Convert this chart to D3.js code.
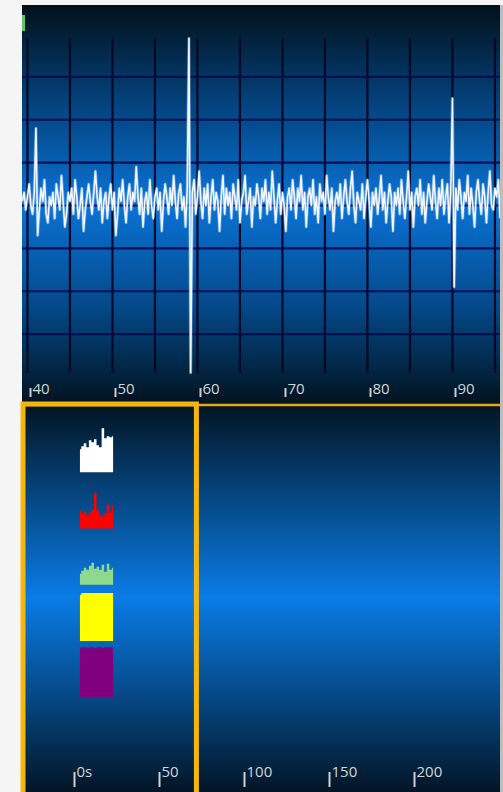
<!DOCTYPE html>
<html>
<head>
<meta charset="utf-8">
<script src="https://cdn.jsdelivr.net/npm/d3@7"></script>
<style>
  body { margin: 0; background: #f5f5f5; }
  svg { display: block; }
</style>
</head>
<body>
<svg id="chart" width="503" height="792"></svg>
<script>
// detail view: one trace, seconds on x
var sigStart = 39.1, sigStep = 0.2;
var signal = [
  0.1, 0.3, -0.1, 0.2, 0.5, 0.0, -0.2, 0.3, 1.8, -0.7,
  -0.1, 0.4, 0.1, 0.6, -0.2, -0.4, 0.2, 0.0, 0.3, -0.3,
  0.5, 0.2, -0.1, 0.7, 0.1, -0.5, -0.2, 0.3, 0.1, 0.4,
  -0.2, 0.6, 0.2, -0.3, 0.0, 0.4, -0.6, -0.1, 0.2, 0.5,
  0.1, -0.2, 0.3, 0.8, 0.2, -0.1, 0.4, -0.4, 0.1, 0.3,
  -0.3, 0.2, 0.5, -0.1, 0.3, -0.7, -0.2, 0.4, 0.1, 0.6,
  0.0, -0.4, 0.2, 0.5, -0.1, 0.3, 0.1, 0.9, 0.2, -0.2,
  0.4, -0.5, 0.1, 0.3, -0.2, 0.6, 0.0, -0.3, 0.2, 0.4,
  -0.1, 0.3, -0.6, 0.1, 0.5, 0.2, -0.2, 0.4, 0.0, 0.7,
  0.1, -0.3, 0.3, 0.5, -0.1, 0.2, -0.5, 0.4, 3.9, -3.9,
  0.3, 0.6, -0.2, 0.2, 0.8, 0.1, -0.3, 0.4, 0.0, 0.5,
  -0.4, 0.2, 0.6, -0.1, 0.3, 0.1, -0.6, 0.2, 0.7, -0.2,
  0.4, 0.0, 0.3, -0.3, 0.5, 0.2, -0.1, 0.6, -0.4, 0.1,
  0.3, 0.7, -0.2, 0.1, 0.4, -0.5, 0.2, 0.0, 0.5, 0.2,
  -0.3, 0.4, 0.1, 0.6, -0.2, 0.3, -0.1, 0.8, 0.2, -0.4,
  0.1, 0.5, -0.2, 0.3, 0.0, -0.6, 0.2, 0.4, -0.1, 0.6,
  0.2, -0.3, 0.4, 0.1, 0.7, -0.1, 0.3, -0.5, 0.2, 0.4,
  0.0, 0.6, -0.2, 0.2, -0.4, 0.5, 0.1, 0.3, -0.2, 0.7,
  0.2, -0.1, 0.4, -0.6, 0.1, 0.3, 0.0, 0.5, -0.3, 0.2,
  0.6, 0.1, -0.2, 0.4, 0.8, 0.0, -0.4, 0.3, 0.1, -0.1,
  0.5, -0.3, 0.2, 0.6, 0.1, -0.5, 0.3, 0.0, 0.4, -0.2,
  0.2, 0.7, -0.1, 0.3, -0.4, 0.1, 0.5, 0.2, -0.6, 0.3,
  0.0, 0.4, -0.2, 0.6, 0.1, -0.3, 0.2, 0.8, -0.1, 0.3,
  -0.5, 0.2, 0.4, 0.0, 0.6, -0.2, 0.3, -0.4, 0.1, 0.5,
  0.2, -0.1, 0.7, 0.1, -0.3, 0.4, 0.0, 0.6, -0.2, 0.2,
  0.5, -0.4, 0.3, 2.5, -1.9, 0.4, -0.1, 0.6, 0.2, -0.3,
  0.3, 0.1, 0.7, -0.2, 0.4, 0.0, -0.5, 0.3, 0.6, 0.1,
  -0.2, 0.5, 0.2, -0.4, 0.3, 0.8, 0.0, -0.1, 0.4, 0.2,
  0.6, -0.3
];
var detailTicks = [40, 50, 60, 70, 80, 90];
var gridTimes = [39.7, 44.7, 49.7, 54.7, 59.7, 64.7, 69.7, 74.7, 79.7, 84.7, 89.7, 94.7];
var gridLevels = [-3, -2, -1, 0, 1, 2, 3];

// overview: small area glyphs per channel
var overviewTicks = [0, 50, 100, 150, 200];
var brushExtent = [-30, 72];
var glyphRows = ["white", "red", "green", "yellow", "purple"];
var glyphColors = ["#ffffff", "#ff0000", "#8fd98f", "#ffff00", "#800080"];
var glyphTimes = [3.5, 5, 6.5, 8, 9.5, 11, 12.5, 14, 15.5, 17, 18.5, 20, 21.5, 23];
var whiteVals  = [4.6, 5.2, 5.8, 5.0, 6.4, 6.0, 6.6, 5.4, 5.0, 8.8, 6.8, 7.2, 7.0, 7.2];
var redVals    = [3.6, 3.0, 3.4, 2.6, 3.2, 3.8, 7.0, 3.6, 2.6, 2.4, 3.0, 4.8, 3.2, 4.6];
var greenVals  = [2.2, 2.8, 3.4, 3.0, 3.8, 4.4, 3.2, 3.6, 3.0, 4.0, 2.6, 4.2, 3.0, 3.4];
var yellowVals = [9.2, 9.6, 9.6, 9.6, 9.6, 9.6, 9.6, 9.6, 9.6, 9.6, 9.6, 9.6, 9.6, 9.6];
var purpleVals = [9.8, 10, 10, 9.8, 10, 10, 9.8, 10, 10, 9.8, 10, 10, 10, 9.8];

var svg = d3.select("#chart");
var defs = svg.append("defs");

function gradient(id, stops) {
  var g = defs.append("linearGradient")
    .attr("id", id)
    .attr("x1", 0).attr("y1", 0)
    .attr("x2", 0).attr("y2", 1);
  g.selectAll("stop")
    .data(stops)
    .enter().append("stop")
    .attr("offset", function(d) { return d[0]; })
    .attr("stop-color", function(d) { return d[1]; });
}
gradient("topBg", [[0, "#02101b"], [0.25, "#04437e"], [0.5, "#0a73d6"], [0.75, "#044a8c"], [1, "#01131f"]]);
gradient("botBg", [[0, "#021322"], [0.5, "#0a7ce6"], [1, "#021526"]]);

var panelLeft = 22, panelRight = 500;

// ---- detail panel ----
var xDetail = d3.scaleLinear().domain([40, 90]).range([30, 455]);
var yDetail = d3.scaleLinear().domain([-4, 4]).range([377, 34]);

svg.append("rect")
  .attr("x", panelLeft).attr("y", 5)
  .attr("width", panelRight - panelLeft).attr("height", 398)
  .style("fill", "url(#topBg)");

defs.append("clipPath").attr("id", "topClip")
  .append("rect")
  .attr("x", panelLeft).attr("y", 5)
  .attr("width", panelRight - panelLeft).attr("height", 398);

var detail = svg.append("g").attr("clip-path", "url(#topClip)");

detail.selectAll(".vgrid")
  .data(gridTimes)
  .enter().append("line")
  .attr("class", "vgrid")
  .attr("x1", function(d) { return xDetail(d); })
  .attr("x2", function(d) { return xDetail(d); })
  .attr("y1", yDetail(3.9))
  .attr("y2", yDetail(-3.9))
  .style("stroke", "#020826")
  .style("stroke-width", 2.2);

detail.selectAll(".hgrid")
  .data(gridLevels)
  .enter().append("line")
  .attr("class", "hgrid")
  .attr("x1", panelLeft)
  .attr("x2", panelRight)
  .attr("y1", function(d) { return yDetail(d); })
  .attr("y2", function(d) { return yDetail(d); })
  .style("stroke", "#060c50")
  .style("stroke-width", 2.2);

var line = d3.line()
  .x(function(d, i) { return xDetail(sigStart + i * sigStep); })
  .y(function(d) { return yDetail(d); });

// soft halo under the trace
detail.append("path")
  .datum(signal)
  .attr("d", line)
  .style("fill", "none")
  .style("stroke", "#a9d0ff")
  .style("stroke-opacity", 0.4)
  .style("stroke-width", 3.2)
  .style("stroke-linejoin", "round");

detail.append("path")
  .datum(signal)
  .attr("d", line)
  .style("fill", "none")
  .style("stroke", "#f2f7ff")
  .style("stroke-width", 1.6)
  .style("stroke-linejoin", "round");

// small green marker top-left
svg.append("rect")
  .attr("x", panelLeft).attr("y", 15)
  .attr("width", 3).attr("height", 16)
  .style("fill", "#62c46a");

function styleAxis(g, textY) {
  g.select(".domain").remove();
  g.selectAll(".tick line")
    .style("stroke", "#cfcfcf")
    .style("stroke-width", 2);
  g.selectAll(".tick text")
    .attr("x", 2)
    .attr("y", textY)
    .attr("dy", 0)
    .style("text-anchor", "start")
    .style("fill", "#d4d4d4")
    .style("font-family", "'Open Sans', sans-serif")
    .style("font-size", "15px");
}

var detailAxis = svg.append("g")
  .attr("transform", "translate(0,397)")
  .call(d3.axisTop(xDetail).tickValues(detailTicks).tickSize(9).tickFormat(d3.format("d")));
styleAxis(detailAxis, -3);

// ---- overview panel ----
var xOverview = d3.scaleLinear().domain([0, 200]).range([74, 414]);
var rowScale = d3.scaleBand().domain(glyphRows).range([416, 697.25]);
var hScale = d3.scaleLinear().domain([0, 10]).range([0, 50]);

svg.append("rect")
  .attr("x", panelLeft).attr("y", 403)
  .attr("width", panelRight - panelLeft).attr("height", 389)
  .style("fill", "url(#botBg)");

svg.append("line")
  .attr("x1", panelLeft).attr("x2", panelRight)
  .attr("y1", 405).attr("y2", 405)
  .style("stroke", "#e9a51a")
  .style("stroke-width", 2.5);

var glyphData = [whiteVals, redVals, greenVals, yellowVals, purpleVals];

glyphRows.forEach(function(name, k) {
  var base = rowScale(name) + rowScale.bandwidth();
  var area = d3.area()
    .curve(d3.curveStep)
    .x(function(d, i) { return xOverview(glyphTimes[i]); })
    .y0(base)
    .y1(function(d) { return base - hScale(d); });
  svg.append("path")
    .datum(glyphData[k])
    .attr("d", area)
    .style("fill", glyphColors[k]);
});

var overviewAxis = svg.append("g")
  .attr("transform", "translate(0,787)")
  .call(d3.axisTop(xOverview).tickValues(overviewTicks).tickSize(15)
    .tickFormat(function(d) { return d === 0 ? "0s" : d; }));
styleAxis(overviewAxis, -10);

// brush box
svg.append("rect")
  .attr("x", xOverview(brushExtent[0]))
  .attr("y", 404)
  .attr("width", xOverview(brushExtent[1]) - xOverview(brushExtent[0]))
  .attr("height", 400)
  .style("fill", "none")
  .style("stroke", "#f6b50e")
  .style("stroke-width", 5);

// right frame edge
svg.append("rect")
  .attr("x", panelRight).attr("y", 5)
  .attr("width", 3).attr("height", 787)
  .style("fill", "#bdbdbd");
</script>
</body>
</html>
